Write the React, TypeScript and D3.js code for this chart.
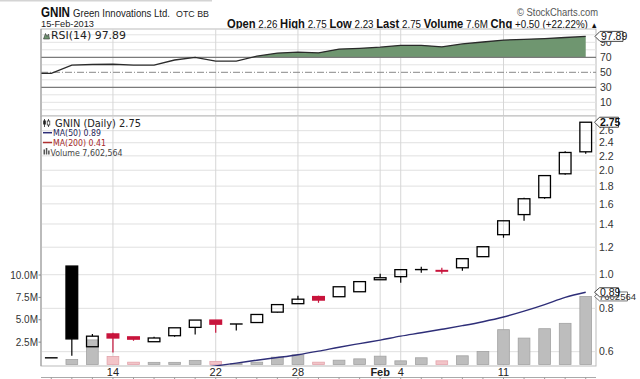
import React from 'react';
import * as d3 from 'd3';

const dates = ['2013-01-09','2013-01-10','2013-01-11','2013-01-14','2013-01-15','2013-01-16','2013-01-17','2013-01-18','2013-01-22','2013-01-23','2013-01-24','2013-01-25','2013-01-28','2013-01-29','2013-01-30','2013-01-31','2013-02-01','2013-02-04','2013-02-05','2013-02-06','2013-02-07','2013-02-08','2013-02-11','2013-02-12','2013-02-13','2013-02-14','2013-02-15'];
const opens  = [0.576,1.059,0.620,0.675,0.662,0.641,0.667,0.705,0.740,0.721,0.728,0.780,0.825,0.865,0.864,0.893,0.967,0.987,1.034,1.027,1.047,1.127,1.304,1.490,1.667,1.953,2.26];
const highs  = [0.576,1.059,0.675,0.680,0.662,0.663,0.703,0.740,0.740,0.721,0.768,0.820,0.870,0.870,0.923,0.955,1.007,1.034,1.054,1.047,1.112,1.204,1.430,1.667,1.930,2.270,2.75];
const lows   = [0.576,0.584,0.620,0.597,0.645,0.641,0.662,0.672,0.680,0.690,0.728,0.777,0.825,0.830,0.864,0.893,0.967,0.948,1.013,1.007,1.027,1.127,1.278,1.430,1.655,1.940,2.23];
const closes = [0.576,0.653,0.665,0.657,0.652,0.657,0.703,0.740,0.720,0.721,0.768,0.820,0.850,0.845,0.923,0.955,0.980,1.034,1.035,1.025,1.112,1.204,1.430,1.655,1.930,2.250,2.75];
const volumes = [0,550000,2750000,900000,260000,240000,240000,460000,350000,100000,260000,820000,1080000,260000,480000,630000,930000,410000,750000,410000,970000,1460000,3890000,2950000,4000000,4600000,7602564];
const ma50 = [0.500,0.505,0.510,0.515,0.520,0.525,0.530,0.537,0.546,0.556,0.567,0.577,0.588,0.602,0.618,0.633,0.648,0.665,0.680,0.696,0.713,0.732,0.755,0.785,0.820,0.860,0.890];
const rsi = [48.7,59.7,60.4,60.7,59.7,59.7,66.4,70.0,65.0,65.0,71.5,75.7,77.0,76.0,81.0,82.0,83.5,86.0,86.0,84.0,87.8,90.4,93.0,94.0,95.0,96.4,97.89];

const priceTicks = [0.6, 0.8, 1.0, 1.2, 1.4, 1.6, 1.8, 2.0, 2.2, 2.4, 2.6];
const volumeTicks = [2.5e6, 5e6, 7.5e6, 10e6];
const rsiLabelTicks = [10, 30, 50, 70, 90];
const rsiGridTicks = [0, 10, 20, 40, 60, 80, 90, 100];
const xLabelDates = ['2013-01-14', '2013-01-22', '2013-01-28', '2013-02-01', '2013-02-04', '2013-02-11'];
const xLabelTexts = ['14', '22', '28', 'Feb', '4', '11'];

const FONT = '"Liberation Sans", Arial, sans-serif';
const VFONT = '"DejaVu Sans", Verdana, sans-serif';

function tagPath(x0: number, yc: number, w: number, h: number) {
  const hh = h / 2;
  return `M${x0},${yc} L${x0 + 5},${yc - hh} L${x0 + w},${yc - hh} L${x0 + w},${yc + hh} L${x0 + 5},${yc + hh} Z`;
}

export default function App() {
  const L = 41, R = 596;
  const rsiTop = 29, rsiBot = 116, pTop = 116, pBot = 366;
  const x = d3.scaleBand<string>().domain(dates).range([L, R]).padding(0);
  const bw = x.bandwidth();
  const cx = (d: string) => (x(d) as number) + bw / 2;
  const y = d3.scaleLog().domain([0.5456, 2.866]).range([pBot, pTop]);
  const yV = d3.scaleLinear().domain([0, 1e7]).range([364.5, 275]);
  const yR = d3.scaleLinear().domain([0, 100]).range([109.8, 34.8]);
  const bodyW = bw * 0.57;
  const RED = '#c8143c';

  const rsiPts = [{ x: L, v: rsi[0] }, ...dates.map((d, i) => ({ x: cx(d), v: rsi[i] }))];
  const rsiLine = d3.line<{ x: number; v: number }>().x(p => p.x).y(p => yR(p.v))(rsiPts) || '';
  const rsiArea = d3.area<{ x: number; v: number }>().x(p => p.x).y0(yR(70)).y1(p => yR(p.v))(rsiPts) || '';
  const maLine = d3.line<number>().x((_, i) => cx(dates[i])).y(v => y(v)).curve(d3.curveMonotoneX)(ma50) || '';

  const isRed = (i: number) => i > 0 && closes[i] < closes[i - 1];

  return (
    <svg width={640} height={379} style={{ position: 'absolute', left: 0, top: 0, background: '#fff' }}>
      <defs>
        <clipPath id="pclip"><rect x={L} y={pTop} width={R - L} height={pBot - pTop} /></clipPath>
        <clipPath id="rclip"><rect x={L} y={rsiTop} width={R - L} height={rsiBot - rsiTop} /></clipPath>
        <clipPath id="rfill"><rect x={L} y={rsiTop} width={R - L} height={yR(70) - rsiTop} /></clipPath>
      </defs>
      <rect x={0} y={0} width={640} height={379} fill="#fff" />
      <rect x={0} y={0} width={212} height={1.5} fill="#d4d4d4" />

      {/* Header */}
      <text x={41} y={16.7} fontFamily={FONT} fontSize={14} fontWeight="bold" fill="#111" textLength={29} lengthAdjust="spacingAndGlyphs">GNIN</text>
      <text x={73} y={16.5} fontFamily={FONT} fontSize={11} fill="#222" textLength={97} lengthAdjust="spacingAndGlyphs">Green Innovations Ltd.</text>
      <text x={176} y={16.5} fontFamily={FONT} fontSize={9.5} fill="#222" textLength={33} lengthAdjust="spacingAndGlyphs">OTC BB</text>
      <text x={41} y={27.3} fontFamily={FONT} fontSize={9.5} fill="#222" textLength={53} lengthAdjust="spacingAndGlyphs">15-Feb-2013</text>
      <text x={598} y={16} textAnchor="end" fontFamily={FONT} fontSize={10.5} fill="#555" textLength={81} lengthAdjust="spacingAndGlyphs">© StockCharts.com</text>
      <text x={227} y={27.5} fontFamily={FONT} fill="#111" textLength={371} lengthAdjust="spacingAndGlyphs">
        <tspan fontWeight="bold" fontSize={12}>Open</tspan>
        <tspan fontSize={10.5}>{' 2.26  '}</tspan>
        <tspan fontWeight="bold" fontSize={12}>High</tspan>
        <tspan fontSize={10.5}>{' 2.75  '}</tspan>
        <tspan fontWeight="bold" fontSize={12}>Low</tspan>
        <tspan fontSize={10.5}>{' 2.23  '}</tspan>
        <tspan fontWeight="bold" fontSize={12}>Last</tspan>
        <tspan fontSize={10.5}>{' 2.75  '}</tspan>
        <tspan fontWeight="bold" fontSize={12}>Volume</tspan>
        <tspan fontSize={10.5}>{' 7.6M  '}</tspan>
        <tspan fontWeight="bold" fontSize={12}>Chg</tspan>
        <tspan fontSize={10.5}>{' +0.50 (+22.22%) '}</tspan>
        <tspan fontSize={8}>▲</tspan>
      </text>

      {/* RSI panel */}
      <rect x={L} y={rsiTop} width={R - L} height={rsiBot - rsiTop} fill="#fff" stroke="#bbb" />
      {rsiGridTicks.map(t => (
        <line key={'rg' + t} x1={L} x2={R} y1={yR(t)} y2={yR(t)} stroke="#e3e3e3" />
      ))}
      {xLabelDates.map(d => (
        <line key={'rv' + d} x1={cx(d)} x2={cx(d)} y1={rsiTop} y2={rsiBot} stroke="#d6d6d6" />
      ))}
      <path d={rsiArea} fill="#6f9670" clipPath="url(#rfill)" />
      <line x1={L} x2={R} y1={yR(70)} y2={yR(70)} stroke="#7a7a7a" strokeWidth={1.2} />
      <line x1={L} x2={R} y1={yR(30)} y2={yR(30)} stroke="#7a7a7a" strokeWidth={1.2} />
      <line x1={L} x2={R} y1={yR(50)} y2={yR(50)} stroke="#888" strokeWidth={1} strokeDasharray="7,2,1,2" />
      <path d={rsiLine} fill="none" stroke="#2a2a2a" strokeWidth={1.3} clipPath="url(#rclip)" />
      <line x1={L} x2={L} y1={rsiTop} y2={rsiBot} stroke="#999" />
      {/* RSI legend */}
      <path d="M43.5,39 L45.5,33.5 L47,36.5 L48.5,34 L49.5,39 Z" fill="#6f9670" stroke="#333" strokeWidth={0.6} />
      <text x={51} y={39} fontFamily={VFONT} fontSize={10} fill="#222" textLength={75} lengthAdjust="spacingAndGlyphs">RSI(14) 97.89</text>
      {rsiLabelTicks.map(t => (
        <text key={'rl' + t} x={600} y={yR(t)} dy="0.35em" fontFamily={FONT} fontSize={10.5} fill="#333">{t}</text>
      ))}
      <path d={tagPath(595, yR(97.89), 28, 10)} fill="#fff" stroke="#333" strokeWidth={0.9} />
      <text x={601} y={yR(97.89)} dy="0.36em" fontFamily={FONT} fontSize={10.5} fill="#111">97.89</text>

      {/* Price panel */}
      <rect x={L} y={pTop} width={R - L} height={pBot - pTop} fill="#fff" stroke="#bbb" />
      {priceTicks.map(t => (
        <line key={'pg' + t} x1={L} x2={R} y1={y(t)} y2={y(t)} stroke="#e0e0e0" />
      ))}
      {xLabelDates.map(d => (
        <line key={'pv' + d} x1={cx(d)} x2={cx(d)} y1={pTop} y2={pBot} stroke="#d6d6d6" />
      ))}
      <line x1={L} x2={L} y1={pTop} y2={pBot} stroke="#999" />

      {/* Volume bars */}
      <g clipPath="url(#pclip)">
        {dates.map((d, i) => volumes[i] > 0 && (
          <rect key={'v' + d} x={cx(d) - bodyW / 2} y={yV(volumes[i])} width={bodyW} height={yV(0) - yV(volumes[i])}
            fill={isRed(i) ? '#f2c4c8' : '#bdbdbd'} stroke={isRed(i) ? '#e3a4ac' : '#a2a2a2'} strokeWidth={0.8} />
        ))}
        <path d={maLine} fill="none" stroke="#2e2e78" strokeWidth={1.4} />
        {dates.map((d, i) => {
          const o = opens[i], c = closes[i], h = highs[i], l = lows[i];
          const col = isRed(i) ? RED : '#000';
          const xc = cx(d);
          const yTop = y(Math.max(o, c)), yBot = y(Math.min(o, c));
          const hollow = c > o;
          const doji = yBot - yTop < 1.5;
          if (doji) {
            return (
              <g key={'c' + d}>
                {y(h) < yTop && <line x1={xc} x2={xc} y1={y(h)} y2={yTop} stroke={col} strokeWidth={1.2} />}
                {y(l) > yBot && <line x1={xc} x2={xc} y1={yBot} y2={y(l)} stroke={col} strokeWidth={1.2} />}
                <line x1={xc - bodyW / 2 - 0.5} x2={xc + bodyW / 2 + 0.5} y1={(yTop + yBot) / 2} y2={(yTop + yBot) / 2} stroke={col} strokeWidth={isRed(i) ? 2 : 1.4} />
              </g>
            );
          }
          return (
            <g key={'c' + d}>
              {y(h) < yTop && <line x1={xc} x2={xc} y1={y(h)} y2={yTop} stroke={col} strokeWidth={1.2} />}
              {y(l) > yBot && <line x1={xc} x2={xc} y1={yBot} y2={y(l)} stroke={col} strokeWidth={1.2} />}
              <rect x={xc - bodyW / 2} y={yTop} width={bodyW} height={yBot - yTop}
                fill={hollow ? 'none' : col} stroke={col} strokeWidth={1.3} />
            </g>
          );
        })}
      </g>

      {/* Price legend */}
      <g>
        <line x1={44.5} x2={44.5} y1={119} y2={127} stroke="#222" strokeWidth={0.8} />
        <rect x={43.2} y={120.5} width={2.6} height={4} fill="#222" />
        <line x1={48.5} x2={48.5} y1={119} y2={127} stroke="#222" strokeWidth={0.8} />
        <rect x={47.2} y={121} width={2.6} height={4} fill="#fff" stroke="#222" strokeWidth={0.7} />
        <text x={55} y={127} fontFamily={VFONT} fontSize={10} fill="#222" textLength={86} lengthAdjust="spacingAndGlyphs">GNIN (Daily) 2.75</text>
        <line x1={43} x2={52} y1={132.7} y2={132.7} stroke="#2e2e78" strokeWidth={1.5} />
        <text x={53} y={136} fontFamily={VFONT} fontSize={9} fill="#1f1f5a" textLength={48} lengthAdjust="spacingAndGlyphs">MA(50) 0.89</text>
        <line x1={43} x2={52} y1={142.5} y2={142.5} stroke="#b03030" strokeWidth={1.5} />
        <text x={53} y={146} fontFamily={VFONT} fontSize={9} fill="#a52a2a" textLength={53} lengthAdjust="spacingAndGlyphs">MA(200) 0.41</text>
        <rect x={43.5} y={149.5} width={1.5} height={5} fill="#555" />
        <rect x={45.8} y={148} width={1.5} height={6.5} fill="#555" />
        <rect x={48.1} y={150.5} width={1.5} height={4} fill="#555" />
        <text x={50.5} y={155.5} fontFamily={VFONT} fontSize={9} fill="#444" textLength={72} lengthAdjust="spacingAndGlyphs">Volume 7,602,564</text>
      </g>

      {/* Right price labels */}
      {priceTicks.map(t => (
        <text key={'pl' + t} x={599} y={y(t)} dy="0.35em" fontFamily={FONT} fontSize={10.5} fill="#333">{t.toFixed(1)}</text>
      ))}
      <path d={tagPath(594.5, y(2.75), 24, 10)} fill="#fff" stroke="#333" strokeWidth={0.9} />
      <text x={600} y={y(2.75)} dy="0.36em" fontFamily={FONT} fontSize={10.5} fontWeight="bold" fill="#111">2.75</text>
      <path d={tagPath(594.5, yV(7602564), 33, 9)} fill="#fff" stroke="#555" strokeWidth={0.8} />
      <text x={599} y={yV(7602564)} dy="0.35em" fontFamily={FONT} fontSize={9.5} fill="#333">7602564</text>
      <path d={tagPath(594.5, y(0.89), 24, 9)} fill="#fff" stroke="#333" strokeWidth={0.9} />
      <text x={600} y={y(0.89)} dy="0.36em" fontFamily={FONT} fontSize={10.5} fill="#111">0.89</text>

      {/* Left volume labels */}
      {volumeTicks.map(t => (
        <g key={'vl' + t}>
          <text x={38} y={yV(t)} dy="0.35em" textAnchor="end" fontFamily={FONT} fontSize={10} fill="#333">{(t / 1e6).toFixed(1) + 'M'}</text>
          <line x1={38.5} x2={41} y1={yV(t)} y2={yV(t)} stroke="#888" />
        </g>
      ))}

      {/* X axis labels */}
      {xLabelDates.map((d, i) => (
        <text key={'xl' + d} x={cx(d)} y={372} dy="0.35em" textAnchor="middle" fontFamily={FONT} fontSize={11}
          fontWeight={xLabelTexts[i] === 'Feb' ? 'bold' : 'normal'} fill="#222">{xLabelTexts[i]}</text>
      ))}
      <line x1={L} x2={R} y1={377.5} y2={377.5} stroke="#aaa" />
      {dates.map(d => (
        <line key={'tk' + d} x1={cx(d)} x2={cx(d)} y1={377.5} y2={379} stroke="#999" />
      ))}
    </svg>
  );
}
